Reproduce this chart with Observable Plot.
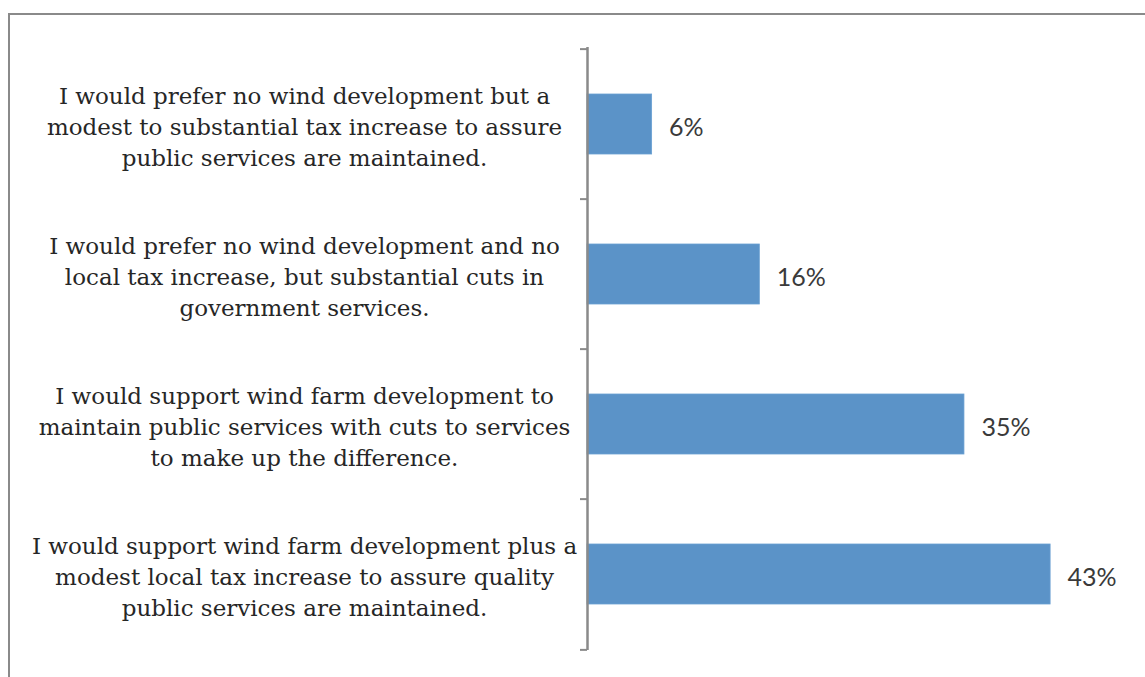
<!DOCTYPE html>
<html>
<head>
<meta charset="utf-8">
<script src="https://cdn.jsdelivr.net/npm/d3@7"></script>
<script src="https://cdn.jsdelivr.net/npm/@observablehq/plot@0.6"></script>
<style>
  html, body { margin: 0; padding: 0; background: #fff; overflow: hidden; }
  #wrap { position: relative; width: 1145px; height: 677px; }
  #border { position: absolute; left: 8px; top: 13px; width: 1200px; height: 700px;
            border-left: 2px solid #8a8a8a; border-top: 2px solid #8a8a8a; box-sizing: border-box; }
  #chart { position: absolute; left: 0; top: 0; }
</style>
</head>
<body>
<div id="wrap"><div id="border"></div><div id="chart"></div></div>
<script>
const categories = [
  "I would prefer no wind development but a\nmodest to substantial tax increase to assure\npublic services are maintained.",
  "I would prefer no wind development and no\nlocal tax increase, but substantial cuts in\ngovernment services.",
  "I would support wind farm development to\nmaintain public services with cuts to services\nto make up the difference.",
  "I would support wind farm development plus a\nmodest local tax increase to assure quality\npublic services are maintained."
];
const values = [6, 16, 35, 43];
const valueLabels = ["6%", "16%", "35%", "43%"];

const data = categories.map((c, i) => ({cat: c, value: values[i], label: valueLabels[i]}));
const bandHalf = (650 - 47) / categories.length / 2;

const chart = Plot.plot({
  width: 1145,
  height: 677,
  marginLeft: 587,
  marginRight: 19.5,
  marginTop: 47,
  marginBottom: 27,
  x: {domain: [0, 50], axis: null},
  y: {domain: categories, paddingInner: 0.6, paddingOuter: 0.3, axis: null},
  style: {background: "transparent", overflow: "visible"},
  marks: [
    Plot.barX(data, {y: "cat", x: "value", fill: "#5b93c8", stroke: "#6aa0d2", strokeWidth: 0.8}),
    Plot.text(data, {y: "cat", x: "value", text: "label", textAnchor: "start", dx: 17, dy: 3,
      fontFamily: "Lato, 'Open Sans', sans-serif", fontSize: 25, fill: "#3a3a3a"}),
    Plot.text(data, {y: "cat", x: 0, text: "cat", textAnchor: "middle", dx: -283, dy: 1,
      lineHeight: 1.35, fontFamily: "'DejaVu Serif', serif", fontSize: 23, fill: "#262626"}),
    Plot.ruleX([0], {stroke: "#8a8a8a", strokeWidth: 2.5}),
    Plot.ruleY(data, {y: "cat", x1: -0.65, x2: 0, dy: -bandHalf, stroke: "#8a8a8a", strokeWidth: 2}),
    Plot.ruleY(data.slice(-1), {y: "cat", x1: -0.65, x2: 0, dy: bandHalf, stroke: "#8a8a8a", strokeWidth: 2})
  ]
});
document.getElementById("chart").appendChild(chart);
</script>
</body>
</html>
